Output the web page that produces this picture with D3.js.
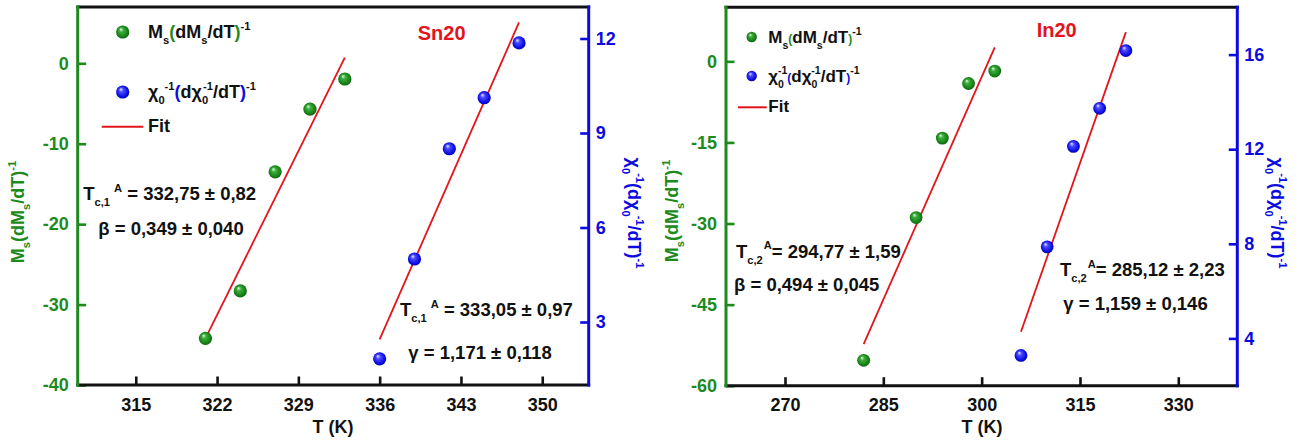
<!DOCTYPE html>
<html>
<head>
<meta charset="utf-8">
<script src="https://cdn.jsdelivr.net/npm/d3@7"></script>
<style>
  html, body { margin: 0; padding: 0; background: #fff; }
  svg { display: block; font-family: "Liberation Sans", Arial, sans-serif; font-weight: bold; }
</style>
</head>
<body>
<svg id="chart" width="1314" height="446"></svg>
<script>
// ---- data ----
// Sn20 panel
const snTicksX = [315, 322, 329, 336, 343, 350];
const snTicksMs = [0, -10, -20, -30, -40];
const snTicksChi = [3, 6, 9, 12];
const snMsT = [321, 324, 327, 330, 333];
const snMs = [-34.2, -28.3, -13.5, -5.7, -1.95];
const snMsFitT = [321, 333];
const snMsFit = [-34.2, 0.7];
const snChiT = [336, 339, 342, 345, 348];
const snChi = [1.83, 5.0, 8.5, 10.12, 11.86];
const snChiFitT = [336, 348];
const snChiFit = [2.45, 12.51];

// In20 panel
const inTicksX = [270, 285, 300, 315, 330];
const inTicksMs = [0, -15, -30, -45, -60];
const inTicksChi = [4, 8, 12, 16];
const inMsT = [282, 290, 294, 298, 302];
const inMs = [-55.3, -28.9, -14.2, -4.1, -1.8];
const inMsFitT = [282, 302];
const inMsFit = [-52.3, 2.6];
const inChiT = [306, 310, 314, 318, 322];
const inChi = [3.28, 7.87, 12.12, 13.73, 16.17];
const inChiFitT = [306, 322];
const inChiFit = [4.28, 16.95];

const GREEN = "#1e8a1e", BLUE = "#0b0be0", RED = "#e3141b";

const svg = d3.select("#chart");
const defs = svg.append("defs");

function sphereGrad(id, c0, c1, c2, c3) {
  const g = defs.append("radialGradient").attr("id", id)
    .attr("cx", "50%").attr("cy", "50%").attr("r", "55%")
    .attr("fx", "35%").attr("fy", "28%");
  g.append("stop").attr("offset", "0%").attr("stop-color", c0);
  g.append("stop").attr("offset", "30%").attr("stop-color", c1);
  g.append("stop").attr("offset", "80%").attr("stop-color", c2);
  g.append("stop").attr("offset", "100%").attr("stop-color", c3);
}
sphereGrad("gGreen", "#e6ffe6", "#3cae3c", "#137d13", "#0a4f0a");
sphereGrad("gBlue", "#ececff", "#4a4aff", "#0808e0", "#00008a");

// text with sub/superscripts
function rich(g, x, y, parts, size, opt) {
  opt = opt || {};
  const t = g.append("text").attr("x", x).attr("y", y)
    .style("font-size", size + "px")
    .attr("fill", opt.fill || "#111");
  if (opt.anchor) t.attr("text-anchor", opt.anchor);
  if (opt.rotate != null) t.attr("transform", `rotate(${opt.rotate},${x},${y})`);
  let cur = 0;
  parts.forEach(p => {
    const off = p.s === "sub" ? size * 0.33 : p.s === "sup" ? -size * 0.45 : 0;
    const ts = t.append("tspan").text(p.t).attr("dy", off - cur);
    if (p.s) ts.style("font-size", (p.k || 0.62) * size + "px");
    if (p.fs) ts.style("font-size", p.fs + "px");
    if (p.fill) ts.attr("fill", p.fill);
    if (p.dx) ts.attr("dx", p.dx);
    cur = off;
  });
  return t;
}

const panels = [
  {
    box: { l: 77.7, r: 588.7, t: 7, b: 385 },
    xDom: [310, 354], yDomL: [-40, 7], yDomR: [1, 13],
    ticksX: snTicksX, ticksL: snTicksMs, ticksR: snTicksChi,
    msT: snMsT, ms: snMs, msFitT: snMsFitT, msFit: snMsFit,
    chiT: snChiT, chi: snChi, chiFitT: snChiFitT, chiFit: snChiFit,
    name: "Sn20", nameX: 441.7, nameY: 39.5,
    xTitleX: 333,
    titleL: { x: 24, y: 212 }, titleR: { x: 628, y: 213 },
    legend: { mx: 122.7, tx: 148, y1: 38, y2: 98, y3: 131.5, lx1: 101.7, lx2: 143.3, ly: 126.7, r: 6.6, size: 18, small: false },
    ann: [
      { x: 83.3, y: 200, sub: "c,1", gap: true, txt: "332,75 \u00b1 0,82" },
      { x: 98.3, y: 235, greek: "\u03b2", txt: "0,349 \u00b1 0,040" },
      { x: 400, y: 316, sub: "c,1", gap: true, txt: "333,05 \u00b1 0,97" },
      { x: 408.3, y: 358.5, greek: "\u03b3", txt: "1,171 \u00b1 0,118" }
    ],
    r: 6.6
  },
  {
    box: { l: 726, r: 1237.3, t: 7.3, b: 385.7 },
    xDom: [261, 339], yDomL: [-60, 10], yDomR: [2, 18],
    ticksX: inTicksX, ticksL: inTicksMs, ticksR: inTicksChi,
    msT: inMsT, ms: inMs, msFitT: inMsFitT, msFit: inMsFit,
    chiT: inChiT, chi: inChi, chiFitT: inChiFitT, chiFit: inChiFit,
    name: "In20", nameX: 1056.7, nameY: 37,
    xTitleX: 982,
    titleL: { x: 678, y: 211 }, titleR: { x: 1271, y: 213 },
    legend: { mx: 751.7, tx: 768.3, y1: 43, y2: 82, y3: 111.7, lx1: 738, lx2: 766.7, ly: 107.3, r: 5.2, size: 17, small: true },
    ann: [
      { x: 736, y: 257.7, sub: "c,2", gap: false, txt: "294,77 \u00b1 1,59" },
      { x: 734, y: 291, greek: "\u03b2", txt: "0,494 \u00b1 0,045" },
      { x: 1060, y: 276, sub: "c,2", gap: false, txt: "285,12 \u00b1 2,23" },
      { x: 1063.3, y: 310, greek: "\u03b3", txt: "1,159 \u00b1 0,146" }
    ],
    r: 6.4
  }
];

const ANN = 18.5;

panels.forEach(p => {
  const b = p.box;
  const g = svg.append("g");
  const x = d3.scaleLinear().domain(p.xDom).range([b.l, b.r]);
  const yL = d3.scaleLinear().domain(p.yDomL).range([b.b, b.t]);
  const yR = d3.scaleLinear().domain(p.yDomR).range([b.b, b.t]);
  const fmt = d => String(d);

  // axes with inward ticks
  const ax = g.append("g").attr("transform", `translate(0,${b.b})`)
    .call(d3.axisBottom(x).tickValues(p.ticksX).tickSize(-8.5).tickPadding(13).tickFormat(fmt));
  ax.selectAll("text").attr("fill", "#111").style("font-size", "18px");
  ax.selectAll("line").attr("stroke", "#111").attr("stroke-width", 2.6);

  const al = g.append("g").attr("transform", `translate(${b.l},0)`)
    .call(d3.axisLeft(yL).tickValues(p.ticksL).tickSize(-8.5).tickPadding(9).tickFormat(fmt));
  al.selectAll("text").attr("fill", GREEN).style("font-size", "18px");
  al.selectAll("line").attr("stroke", GREEN).attr("stroke-width", 2.6);

  const ar = g.append("g").attr("transform", `translate(${b.r},0)`)
    .call(d3.axisRight(yR).tickValues(p.ticksR).tickSize(-8.5).tickPadding(7).tickFormat(fmt));
  ar.selectAll("text").attr("fill", BLUE).style("font-size", "18px");
  ar.selectAll("line").attr("stroke", BLUE).attr("stroke-width", 2.6);

  g.selectAll(".domain").remove();
  g.selectAll(".tick text").style("font-family", "'Liberation Sans', Arial, sans-serif").style("font-weight", "bold");

  // frame
  g.append("line").attr("x1", b.l - 1.5).attr("x2", b.r + 1.5).attr("y1", b.t).attr("y2", b.t)
    .attr("stroke", "#111").attr("stroke-width", 3);
  g.append("line").attr("x1", b.l - 1.5).attr("x2", b.r + 1.5).attr("y1", b.b).attr("y2", b.b)
    .attr("stroke", "#111").attr("stroke-width", 3);
  g.append("line").attr("x1", b.l).attr("x2", b.l).attr("y1", b.t - 1.5).attr("y2", b.b + 1.5)
    .attr("stroke", GREEN).attr("stroke-width", 3);
  g.append("line").attr("x1", b.r).attr("x2", b.r).attr("y1", b.t - 1.5).attr("y2", b.b + 1.5)
    .attr("stroke", BLUE).attr("stroke-width", 3);

  // fit lines
  const line = (sx, sy) => d3.line().x(d => sx(d[0])).y(d => sy(d[1]));
  g.append("path").datum(d3.zip(p.msFitT, p.msFit)).attr("d", line(x, yL))
    .attr("fill", "none").attr("stroke", RED).attr("stroke-width", 1.8);
  g.append("path").datum(d3.zip(p.chiFitT, p.chiFit)).attr("d", line(x, yR))
    .attr("fill", "none").attr("stroke", RED).attr("stroke-width", 1.8);

  // points
  g.selectAll(".ms").data(d3.zip(p.msT, p.ms)).join("circle")
    .attr("cx", d => x(d[0])).attr("cy", d => yL(d[1])).attr("r", p.r)
    .attr("fill", "url(#gGreen)");
  g.selectAll(".chi").data(d3.zip(p.chiT, p.chi)).join("circle")
    .attr("cx", d => x(d[0])).attr("cy", d => yR(d[1])).attr("r", p.r)
    .attr("fill", "url(#gBlue)");

  // sample name
  g.append("text").attr("x", p.nameX).attr("y", p.nameY).attr("text-anchor", "middle")
    .attr("fill", RED).style("font-size", "20px").text(p.name);

  // axis titles
  g.append("text").attr("x", p.xTitleX).attr("y", 433).attr("text-anchor", "middle")
    .attr("fill", "#111").style("font-size", "18px").text("T (K)");

  rich(g, p.titleL.x, p.titleL.y, [
    { t: "M" }, { t: "s", s: "sub" }, { t: "(dM" }, { t: "s", s: "sub" }, { t: "/dT)" }, { t: "-1", s: "sup" }
  ], 18, { fill: GREEN, anchor: "middle", rotate: -90 });

  rich(g, p.titleR.x, p.titleR.y, [
    { t: "\u03c7" }, { t: "0", s: "sub" }, { t: "-1", s: "sup", dx: -1 }, { t: "(d\u03c7" }, { t: "0", s: "sub" },
    { t: "-1", s: "sup", dx: -1 }, { t: "/dT)" }, { t: "-1", s: "sup" }
  ], 18, { fill: BLUE, anchor: "middle", rotate: 90 });

  // legend
  const L = p.legend;
  g.append("circle").attr("cx", L.mx).attr("cy", L.y1 - 6).attr("r", L.r).attr("fill", "url(#gGreen)");
  g.append("circle").attr("cx", L.mx).attr("cy", L.y2 - 6).attr("r", L.r).attr("fill", "url(#gBlue)");
  g.append("line").attr("x1", L.lx1).attr("x2", L.lx2).attr("y1", L.ly).attr("y2", L.ly)
    .attr("stroke", RED).attr("stroke-width", 2);
  const pf = L.small ? L.size * 0.7 : null;
  rich(g, L.tx, L.y1, [
    { t: "M" }, { t: "s", s: "sub" }, { t: "(", fill: GREEN, fs: pf }, { t: "dM" }, { t: "s", s: "sub" },
    { t: "/dT" }, { t: ")", fill: GREEN, fs: pf }, { t: "-1", s: "sup" }
  ], L.size);
  rich(g, L.tx, L.y2, L.small ? [
    { t: "\u03c7" }, { t: "0", s: "sub" }, { t: "-1", s: "sup", dx: -6 }, { t: "(", fill: BLUE, fs: pf },
    { t: "d\u03c7" }, { t: "0", s: "sub" }, { t: "-1", s: "sup", dx: -6 }, { t: "/dT" },
    { t: ")", fill: BLUE, fs: pf }, { t: "-1", s: "sup" }
  ] : [
    { t: "\u03c7" }, { t: "0", s: "sub" }, { t: "-1", s: "sup" }, { t: "(", fill: BLUE }, { t: "d\u03c7" },
    { t: "0", s: "sub" }, { t: "-1", s: "sup", dx: -5 }, { t: "/dT" }, { t: ")", fill: BLUE }, { t: "-1", s: "sup" }
  ], L.size);
  g.append("text").attr("x", L.tx).attr("y", L.y3).attr("fill", "#111")
    .style("font-size", L.size + "px").text("Fit");

  // fit results
  p.ann.forEach(a => {
    if (a.sub) {
      rich(g, a.x, a.y, [
        { t: "T" }, { t: a.sub, s: "sub", k: 0.6 }, { t: "A", s: "sup", k: 0.6, dx: a.gap ? 4 : 1 },
        { t: (a.gap ? " = " : "= ") + a.txt }
      ], ANN);
    } else {
      g.append("text").attr("x", a.x).attr("y", a.y).attr("fill", "#111")
        .style("font-size", ANN + "px").text(a.greek + " = " + a.txt);
    }
  });
});
</script>
</body>
</html>
